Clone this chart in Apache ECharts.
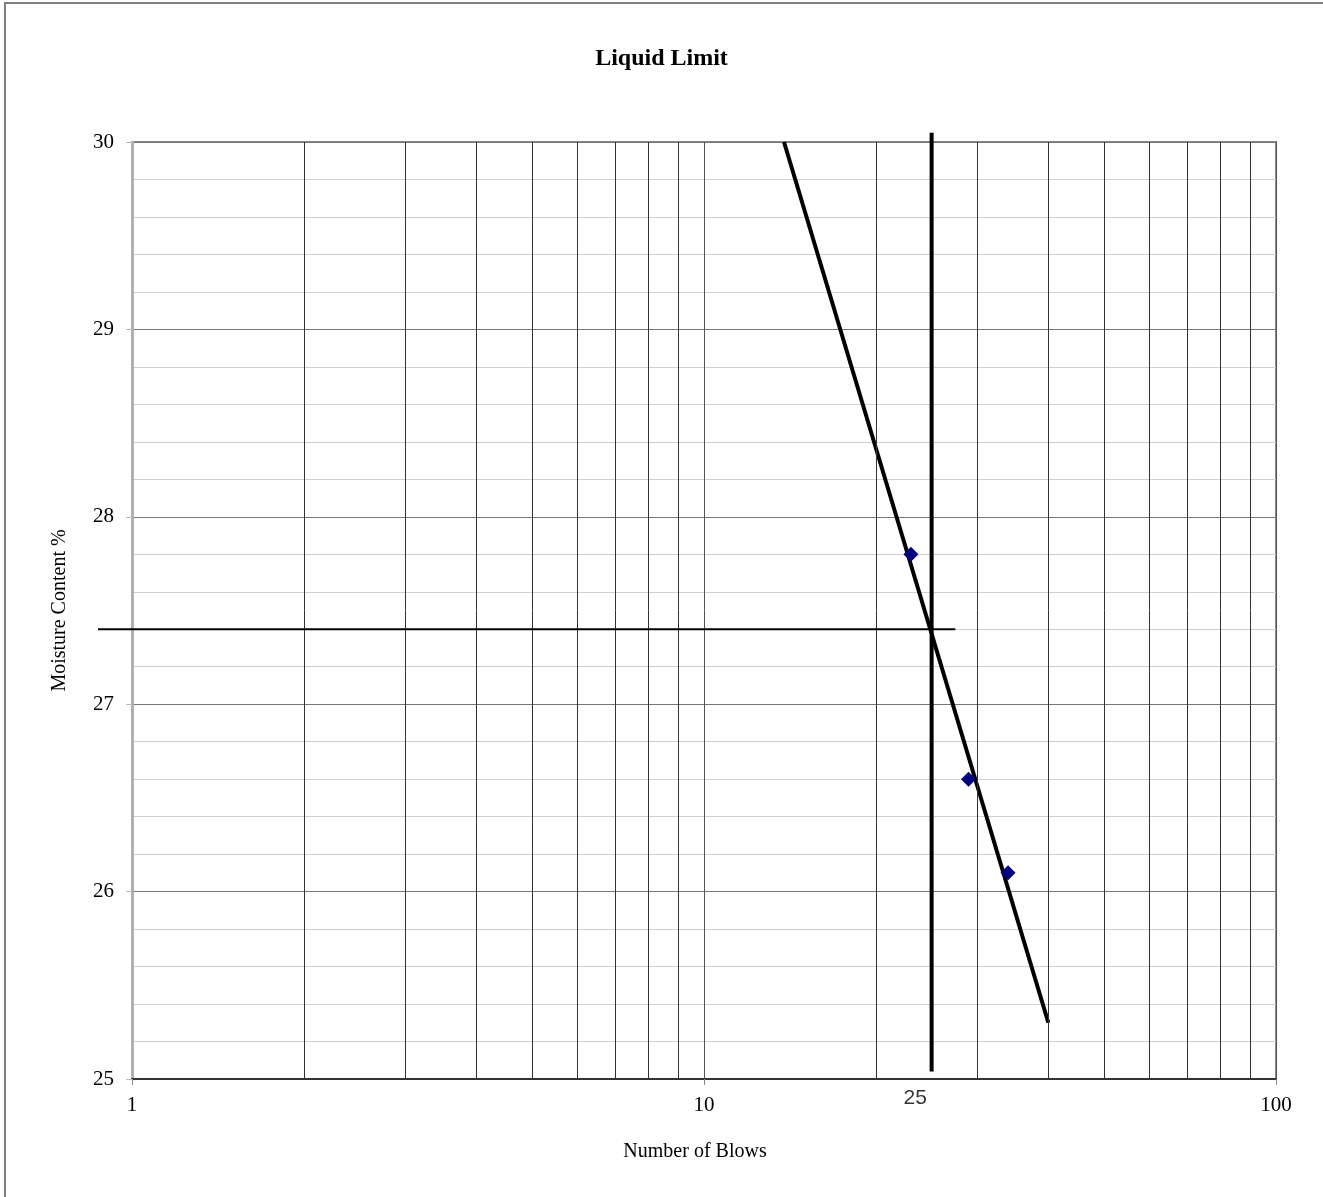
<!DOCTYPE html>
<html>
<head>
<meta charset="utf-8">
<script src="https://cdn.jsdelivr.net/npm/echarts@6/dist/echarts.min.js"></script>
<style>html,body{margin:0;padding:0;background:#fff}#c{width:1323px;height:1197px}</style>
</head>
<body>
<div id="c"></div>
<script>
// Data
var blows = [23, 29, 34];
var moisture = [27.8, 26.6, 26.1];
var trendX = [13.8, 40];
var trendY = [30, 25.3];
var llBlows = 25;
var llMoisture = 27.4;
var vLineY = [30.05, 25.04];
var hLineX = [0.872, 27.5];
var minorX = [2, 3, 4, 5, 6, 7, 8, 9, 20, 30, 40, 50, 60, 70, 80, 90];
var xTicks = [1, 10, 100];
var yTicks = [25, 26, 27, 28, 29, 30];

var serif = '"Liberation Serif", "Times New Roman", serif';
var chart = echarts.init(document.getElementById('c'));
chart.setOption({
  animation: false,
  backgroundColor: '#fff',
  title: {
    text: 'Liquid Limit', left: 'center', top: 42,
    textStyle: {fontFamily: serif, fontWeight: 'bold', fontSize: 24, color: '#000'}
  },
  grid: {left: 132, right: 47, top: 142, bottom: 118, show: true, borderColor: '#888', borderWidth: 2},
  xAxis: {
    type: 'log', logBase: 10, min: xTicks[0], max: xTicks[xTicks.length - 1],
    name: 'Number of Blows', nameLocation: 'middle', nameGap: 63,
    nameTextStyle: {fontFamily: serif, fontSize: 20, color: '#000', padding: [0, 18, 0, 0]},
    axisLine: {show: true, lineStyle: {color: '#333', width: 2}},
    axisTick: {show: true, length: 6, lineStyle: {color: '#888', width: 1}},
    axisLabel: {fontFamily: serif, fontSize: 21, color: '#000', margin: 16},
    splitLine: {show: true, lineStyle: {color: '#555', width: 1}}
  },
  yAxis: {
    type: 'value', min: yTicks[0], max: yTicks[yTicks.length - 1], interval: 1,
    name: 'Moisture Content %', nameLocation: 'middle', nameGap: 62,
    nameTextStyle: {fontFamily: serif, fontSize: 20, color: '#000'},
    axisLine: {show: true, lineStyle: {color: '#b0b0b0', width: 3}},
    axisTick: {show: true, length: 6, lineStyle: {color: '#bbb', width: 1}},
    axisLabel: {fontFamily: serif, fontSize: 21, color: '#000', margin: 18},
    splitLine: {show: true, lineStyle: {color: '#777', width: 1}},
    minorTick: {show: false, splitNumber: 5},
    minorSplitLine: {show: true, lineStyle: {color: '#d0d0d0', width: 1}}
  },
  series: [
    {
      type: 'line', data: [], silent: true,
      markLine: {
        silent: true, symbol: 'none', label: {show: false},
        lineStyle: {color: '#333', width: 1, type: 'solid'},
        data: minorX.map(function (v) { return {xAxis: v}; })
      }
    },
    {
      type: 'line', data: trendX.map(function (x, i) { return [x, trendY[i]]; }),
      symbol: 'none', lineStyle: {color: '#000', width: 4}, z: 4
    },
    {
      type: 'line', clip: false, data: [[llBlows, vLineY[0]], [llBlows, vLineY[1]]],
      symbol: 'none', lineStyle: {color: '#000', width: 4}, z: 4
    },
    {
      type: 'scatter', data: blows.map(function (x, i) { return [x, moisture[i]]; }),
      symbol: 'diamond', symbolSize: 15, itemStyle: {color: '#000080', opacity: 1}, z: 5
    },
    {
      type: 'scatter', clip: false, data: [[23.4, 25]], symbolSize: 0, silent: true,
      label: {show: true, position: 'inside', offset: [0, 19], formatter: '25',
        fontFamily: '"Liberation Sans", Arial, sans-serif', fontSize: 21, color: '#000'}
    }
  ]
});

// Horizontal liquid-limit line: extends left past the axis minimum,
// so its ends are placed through the axis scale (extrapolated in log space).
var p1 = chart.convertToPixel({gridIndex: 0}, [xTicks[0], llMoisture]);
var p10 = chart.convertToPixel({gridIndex: 0}, [xTicks[1], llMoisture]);
var decade = p10[0] - p1[0];
function xPix(v) { return p1[0] + decade * Math.log10(v / xTicks[0]); }
chart.setOption({
  graphic: [{
    type: 'rect', shape: {x: 5, y: 3, width: 1400, height: 1300},
    style: {fill: 'none', stroke: '#808080', lineWidth: 2}, z: -1
  }, {
    type: 'line', z: 10,
    shape: {x1: xPix(hLineX[0]), y1: p1[1], x2: xPix(hLineX[1]), y2: p1[1]},
    style: {stroke: '#000', lineWidth: 2}
  }]
});
</script>
</body>
</html>
